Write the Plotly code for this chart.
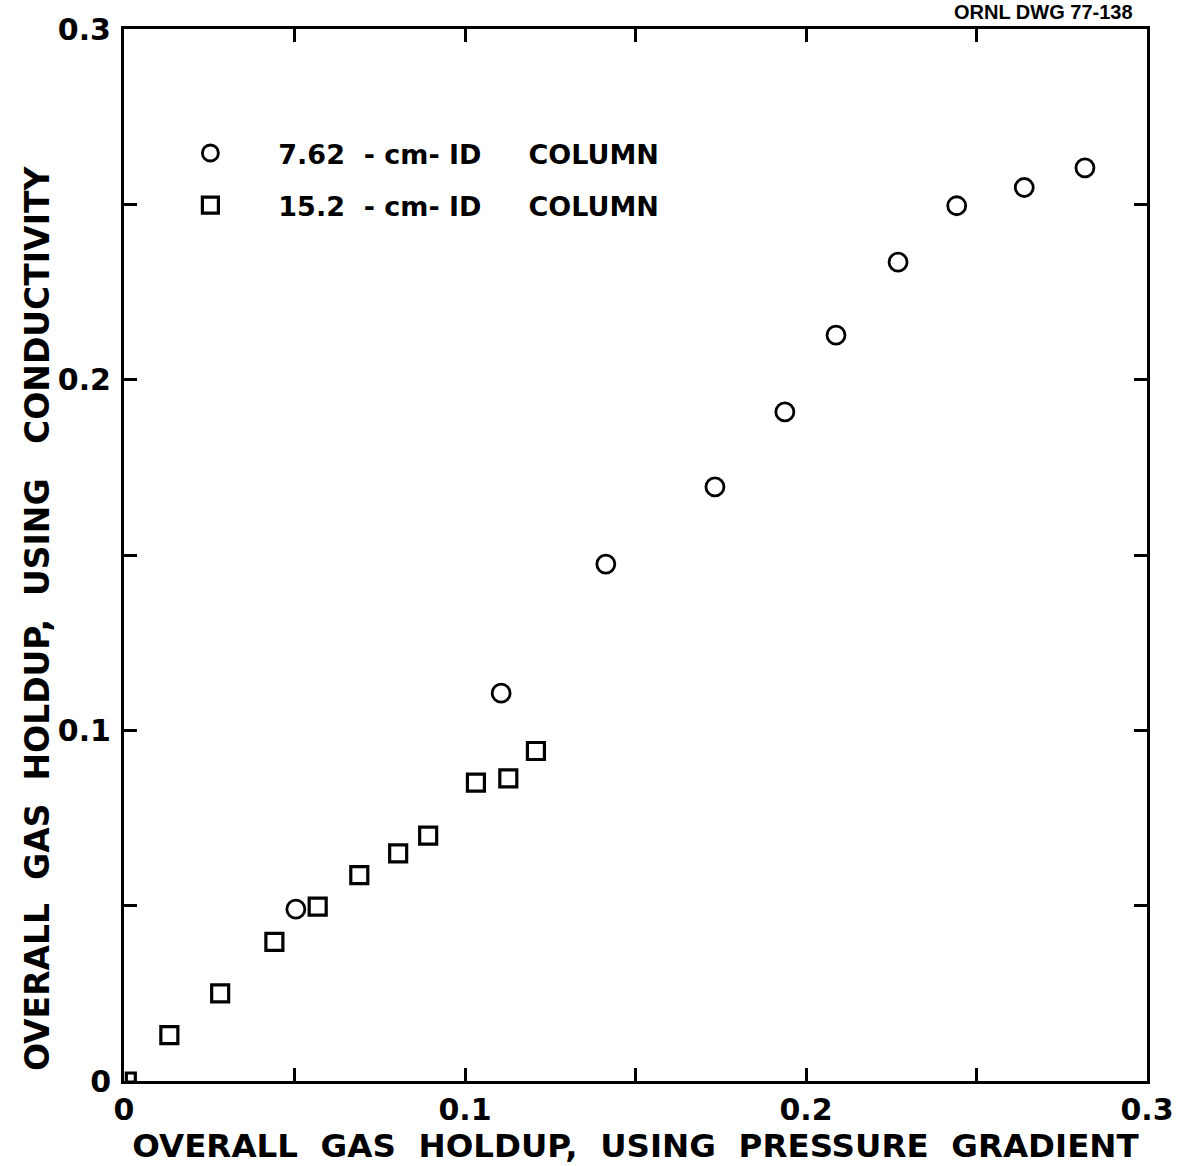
import plotly.graph_objects as go

# 7.62-cm-ID column: holdup by pressure gradient (x) vs by conductivity (y)
small_col_x = [0.0504, 0.1106, 0.1413, 0.1733, 0.1938, 0.2088, 0.2270, 0.2442, 0.2640, 0.2818]
small_col_y = [0.0490, 0.1106, 0.1474, 0.1694, 0.1908, 0.2127, 0.2335, 0.2496, 0.2548, 0.2604]

# 15.2-cm-ID column
large_col_x = [0.0133, 0.0282, 0.0441, 0.0568, 0.0690, 0.0804, 0.0892, 0.1032, 0.1127, 0.1208]
large_col_y = [0.0131, 0.0250, 0.0397, 0.0497, 0.0587, 0.0649, 0.0700, 0.0851, 0.0863, 0.0941]
# 15.2-cm-ID reading at the origin, drawn smaller
origin_x = [0.002]
origin_y = [0.001]

axis_ticks = [0, 0.1, 0.2, 0.3]
x_tick_text = ["0", "0.1", "0.2", "0.3"]
y_tick_text = ["0", "0.1", "0.2", "0.3"]

FONT = "DejaVu Sans"
INK = "#000000"
NB = "\u00a0"


def spaced(*words, gap=2):
    return (NB * gap).join(words)


def legend_label(size_text):
    return (NB * 5 + "<b>" + size_text + NB * 2 + "-" + NB + "cm-" + NB + "ID"
            + NB * 5 + "COLUMN</b>")


square_marker = dict(symbol="square-open", size=17, color=INK, line=dict(width=3.2, color=INK))

fig = go.Figure()
fig.add_trace(go.Scatter(
    x=small_col_x, y=small_col_y, mode="markers",
    name=legend_label("7.62"), legendgroup="a",
    marker=dict(symbol="circle-open", size=18, color=INK, line=dict(width=2.8, color=INK)),
))
fig.add_trace(go.Scatter(
    x=large_col_x, y=large_col_y, mode="markers",
    name=legend_label("15.2"), legendgroup="b",
    marker=square_marker,
))
fig.add_trace(go.Scatter(
    x=origin_x, y=origin_y, mode="markers", legendgroup="b", showlegend=False,
    marker=dict(square_marker, size=9),
))

axis_common = dict(
    range=[0, 0.3], showgrid=False, zeroline=False, automargin=False,
    showline=True, linecolor=INK, linewidth=3, mirror="allticks",
    tickmode="array", tickvals=axis_ticks,
    ticks="inside", ticklen=13, tickwidth=3, tickcolor=INK,
    minor=dict(dtick=0.05, ticks="inside", ticklen=13, tickwidth=3, tickcolor=INK),
    tickfont=dict(family=FONT, size=30, color=INK, weight="bold"),
)

fig.update_xaxes(
    **axis_common, ticktext=x_tick_text, ticklabelstandoff=0,
    title=dict(text=spaced("OVERALL", "GAS", "HOLDUP,", "USING", "PRESSURE", "GRADIENT"),
               font=dict(family=FONT, size=32.5, color=INK, weight="bold"), standoff=2),
)
fig.update_yaxes(**axis_common, ticktext=y_tick_text, ticklabelstandoff=4)

fig.update_layout(
    width=1177, height=1166,
    margin=dict(l=124, r=30, t=29, b=85),
    paper_bgcolor="white", plot_bgcolor="white",
    showlegend=True,
    legend=dict(
        x=0.06, y=0.905, xanchor="left", yanchor="top",
        bgcolor="rgba(0,0,0,0)", borderwidth=0,
        font=dict(family=FONT, size=27, color=INK),
        tracegroupgap=14, itemwidth=40,
    ),
    annotations=[
        dict(
            text="<b>ORNL DWG 77-138</b>", xref="paper", yref="paper",
            x=1.0, y=1.0, xanchor="right", yanchor="top", yshift=30, xshift=-12,
            showarrow=False, font=dict(family="Liberation Sans", size=20, color=INK),
        ),
        # vertical axis title, placed a little below the plot's mid-height
        dict(
            text=spaced("OVERALL", "GAS", "HOLDUP,", "USING") + NB * 3 + "CONDUCTIVITY",
            xref="paper", yref="paper", x=0, y=0.44, xanchor="center", yanchor="middle",
            xshift=-87, textangle=-90, showarrow=False,
            font=dict(family=FONT, size=33, color=INK, weight="bold"),
        ),
    ],
)

fig.write_html("out.html")
